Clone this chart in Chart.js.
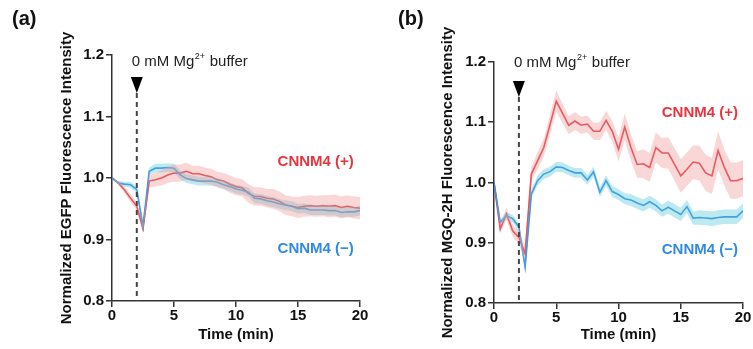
<!DOCTYPE html>
<html>
<head>
<meta charset="utf-8">
<script src="https://cdn.jsdelivr.net/npm/chart.js@4"></script>
<style>
  body { margin: 0; background: #fff; }
  #wrap { position: relative; width: 753px; height: 349px; overflow: hidden; }
  .panel { position: absolute; top: 0; height: 349px; }
  .tag { position: absolute; top: 7px; font: bold 20px "Liberation Sans", Arial, sans-serif; color: #111; }
</style>
</head>
<body>
<div id="wrap">
  <div class="panel" style="left:0;width:376px"><canvas id="chart-a" width="376" height="349"></canvas></div>
  <div class="panel" style="left:376px;width:377px"><canvas id="chart-b" width="377" height="349"></canvas></div>
  <div class="tag" style="left:12px">(a)</div>
  <div class="tag" style="left:398px">(b)</div>
</div>
<script>
// time points (min)
const times = [0, 0.5, 1, 1.5, 2, 2.5, 3, 3.5, 4, 4.5, 5, 5.5, 6, 6.5, 7, 7.5, 8, 8.5, 9, 9.5, 10,
  10.5, 11, 11.5, 12, 12.5, 13, 13.5, 14, 14.5, 15, 15.5, 16, 16.5, 17, 17.5, 18, 18.5, 19, 19.5, 20];

// (a) EGFP
const egfpPlus = [1.0, 0.992, 0.981, 0.967, 0.954, 0.918, 0.995, 0.997, 1.0, 1.005, 1.008, 1.008, 1.011, 1.007, 1.007, 1.004, 1.002,
  0.997, 0.995, 0.99, 0.986, 0.984, 0.975, 0.97, 0.97, 0.967, 0.966, 0.962, 0.956, 0.954, 0.952, 0.954, 0.955, 0.954, 0.955,
  0.954, 0.955, 0.952, 0.954, 0.952, 0.951];
const egfpPlusErr = [0, 0.003, 0.005, 0.006, 0.007, 0.008, 0.01, 0.011, 0.012, 0.013, 0.014, 0.014, 0.014, 0.013, 0.013, 0.013,
  0.013, 0.013, 0.013, 0.014, 0.014, 0.014, 0.015, 0.015, 0.015, 0.015, 0.016, 0.016, 0.016, 0.016, 0.017, 0.017, 0.017, 0.017,
  0.017, 0.018, 0.018, 0.018, 0.018, 0.018, 0.018];
const egfpMinus = [1.0, 0.992, 0.99, 0.989, 0.981, 0.921, 1.011, 1.016, 1.016, 1.017, 1.016, 1.005, 0.999, 0.997, 0.995, 0.995,
  0.995, 0.993, 0.989, 0.986, 0.982, 0.98, 0.977, 0.967, 0.966, 0.963, 0.961, 0.958, 0.956, 0.954, 0.95, 0.951, 0.948, 0.948,
  0.948, 0.947, 0.947, 0.944, 0.945, 0.945, 0.947];
const egfpMinusErr = [0, 0.003, 0.004, 0.005, 0.005, 0.006, 0.006, 0.007, 0.007, 0.007, 0.007, 0.007, 0.007, 0.007, 0.007, 0.007,
  0.007, 0.007, 0.007, 0.007, 0.007, 0.007, 0.007, 0.008, 0.008, 0.008, 0.008, 0.008, 0.008, 0.008, 0.008, 0.008, 0.008, 0.008,
  0.008, 0.008, 0.008, 0.008, 0.008, 0.008, 0.008];

// (b) MGQ-2H
const mgqPlus = [1.0, 0.923, 0.948, 0.92, 0.909, 0.882, 1.014, 1.036, 1.058, 1.096, 1.135, 1.115, 1.095, 1.102, 1.095, 1.097, 1.085,
  1.085, 1.103, 1.085, 1.055, 1.092, 1.058, 1.03, 1.031, 1.025, 1.058, 1.049, 1.049, 1.03, 1.011, 1.022, 1.034, 1.032, 1.016,
  1.011, 1.053, 1.025, 1.003, 1.003, 1.007];
const mgqPlusErr = [0, 0.008, 0.01, 0.01, 0.012, 0.012, 0.012, 0.014, 0.015, 0.016, 0.018, 0.016, 0.015, 0.015, 0.014, 0.014, 0.014,
  0.015, 0.016, 0.017, 0.02, 0.022, 0.022, 0.022, 0.024, 0.024, 0.025, 0.025, 0.026, 0.027, 0.028, 0.028, 0.028, 0.029, 0.03,
  0.03, 0.032, 0.03, 0.03, 0.03, 0.03];
const mgqMinus = [1.0, 0.934, 0.945, 0.94, 0.926, 0.86, 0.981, 1.003, 1.014, 1.018, 1.026, 1.025, 1.02, 1.016, 1.016, 1.004, 1.018,
  0.984, 1.003, 0.985, 0.98, 0.973, 0.971, 0.966, 0.962, 0.968, 0.962, 0.953, 0.959, 0.953, 0.947, 0.96, 0.941, 0.942, 0.941,
  0.94, 0.942, 0.943, 0.943, 0.943, 0.953];
const mgqMinusErr = [0, 0.005, 0.006, 0.006, 0.006, 0.007, 0.008, 0.008, 0.008, 0.008, 0.008, 0.008, 0.008, 0.008, 0.008, 0.008,
  0.008, 0.008, 0.009, 0.009, 0.009, 0.009, 0.01, 0.01, 0.01, 0.01, 0.01, 0.01, 0.011, 0.011, 0.011, 0.011, 0.011, 0.012, 0.012,
  0.012, 0.012, 0.012, 0.012, 0.012, 0.012];

const yTicks = [0.8, 0.9, 1.0, 1.1, 1.2];
const xTicks = [0, 5, 10, 15, 20];
const bufferTime = 2;

const FONT = '"Liberation Sans", Arial, sans-serif';
const RED = '#e8343c';
const BLUE = '#2f8be2';
const RED_BAND = 'rgba(240, 150, 150, 0.38)';
const BLUE_BAND = 'rgba(90, 200, 220, 0.40)';

function pts(vals, err, sign) {
  return times.map((t, i) => ({ x: t, y: err ? vals[i] + sign * err[i] : vals[i] }));
}

// 注释：箭头、虚线、文字
const notePlugin = {
  id: 'notes',
  afterDatasetsDraw(chart, args, opts) {
    const ctx = chart.ctx;
    const xs = chart.scales.x, ys = chart.scales.y;
    const area = chart.chartArea;
    const px = xs.getPixelForValue(bufferTime);
    ctx.save();
    // dashed line
    ctx.strokeStyle = '#444';
    ctx.lineWidth = 2;
    ctx.setLineDash([5, 4]);
    ctx.beginPath();
    ctx.moveTo(px, area.top + opts.lineTop);
    ctx.lineTo(px, area.bottom);
    ctx.stroke();
    ctx.setLineDash([]);
    // triangle
    ctx.fillStyle = '#000';
    ctx.beginPath();
    ctx.moveTo(px - 6, area.top + opts.lineTop - 16);
    ctx.lineTo(px + 6, area.top + opts.lineTop - 16);
    ctx.lineTo(px, area.top + opts.lineTop);
    ctx.closePath();
    ctx.fill();
    // buffer label
    ctx.fillStyle = '#222';
    ctx.textBaseline = 'middle';
    ctx.textAlign = 'left';
    let x = px - 5;
    const ty = area.top + opts.labelDy;
    ctx.font = '15px ' + FONT;
    ctx.fillText('0 mM Mg', x, ty);
    x += ctx.measureText('0 mM Mg').width;
    ctx.font = '9px ' + FONT;
    ctx.fillText('2+', x + 0.5, ty - 5);
    x += ctx.measureText('2+').width + 1;
    ctx.font = '15px ' + FONT;
    ctx.fillText(' buffer', x, ty);
    // series labels
    ctx.font = 'bold 15px ' + FONT;
    ctx.textAlign = 'right';
    ctx.fillStyle = RED;
    ctx.fillText('CNNM4 (+)', xs.getPixelForValue(opts.labelX), ys.getPixelForValue(opts.plusY));
    ctx.fillStyle = BLUE;
    ctx.fillText('CNNM4 (\u2212)', xs.getPixelForValue(opts.labelX), ys.getPixelForValue(opts.minusY));
    ctx.restore();
  }
};

function makeChart(id, cfg) {
  const ctx = document.getElementById(id).getContext('2d');
  return new Chart(ctx, {
    type: 'line',
    data: {
      datasets: [
        { data: pts(cfg.plus, cfg.plusErr, -1), borderWidth: 0, pointRadius: 0, fill: false },
        { data: pts(cfg.plus, cfg.plusErr, 1), borderWidth: 0, pointRadius: 0, fill: '-1', backgroundColor: RED_BAND },
        { data: pts(cfg.minus, cfg.minusErr, -1), borderWidth: 0, pointRadius: 0, fill: false },
        { data: pts(cfg.minus, cfg.minusErr, 1), borderWidth: 0, pointRadius: 0, fill: '-1', backgroundColor: BLUE_BAND },
        { data: pts(cfg.minus), borderColor: BLUE, borderWidth: 1.6, pointRadius: 0, fill: false },
        { data: pts(cfg.plus), borderColor: RED, borderWidth: 1.6, pointRadius: 0, fill: false }
      ]
    },
    options: {
      responsive: false,
      animation: false,
      events: [],
      layout: { padding: cfg.padding },
      plugins: {
        legend: { display: false },
        tooltip: { enabled: false },
        notes: cfg.notes
      },
      scales: {
        x: {
          type: 'linear',
          min: 0, max: 20,
          afterBuildTicks: s => { s.ticks = xTicks.map(v => ({ value: v })); },
          ticks: { color: '#111', font: { family: FONT, size: 15, weight: 'bold' }, padding: 0, maxRotation: 0 },
          grid: { drawOnChartArea: false, drawTicks: true, tickLength: 6, color: '#333', lineWidth: 1.5 },
          border: { display: true, color: '#333', width: 1.5 },
          title: { display: true, text: 'Time (min)', color: '#111', font: { family: FONT, size: 15, weight: 'bold' }, padding: { top: 0, bottom: 5 } },
          afterFit: s => { s.height = cfg.xHeight; }
        },
        y: {
          min: 0.8, max: 1.2,
          afterBuildTicks: s => { s.ticks = yTicks.map(v => ({ value: v })); },
          ticks: { color: '#111', font: { family: FONT, size: 15, weight: 'bold' }, padding: 2, callback: v => v.toFixed(1) },
          grid: { drawOnChartArea: false, drawTicks: true, tickLength: 6, color: '#333', lineWidth: 1.5 },
          border: { display: true, color: '#333', width: 1.5 },
          title: { display: true, text: cfg.yTitle, color: '#111', font: { family: FONT, size: 15, weight: 'bold' }, padding: { top: 0, bottom: 0 } },
          afterFit: s => { s.width = cfg.yWidth; }
        }
      }
    },
    plugins: [notePlugin]
  });
}

makeChart('chart-a', {
  plus: egfpPlus, plusErr: egfpPlusErr, minus: egfpMinus, minusErr: egfpMinusErr,
  yTitle: 'Normalized EGFP Fluorescence Intensity',
  padding: { left: 58, right: 16, top: 55, bottom: 0 },
  yWidth: 54, xHeight: 48,
  notes: { lineTop: 38, labelDy: 7, labelX: 19.5, plusY: 1.026, minusY: 0.885 }
});

makeChart('chart-b', {
  plus: mgqPlus, plusErr: mgqPlusErr, minus: mgqMinus, minusErr: mgqMinusErr,
  yTitle: 'Normalized MGQ-2H Fluorescence Intensity',
  padding: { left: 63, right: 10, top: 62, bottom: 0 },
  yWidth: 55, xHeight: 46,
  notes: { lineTop: 35, labelDy: 1, labelX: 19.6, plusY: 1.115, minusY: 0.888 }
});
</script>
</body>
</html>
